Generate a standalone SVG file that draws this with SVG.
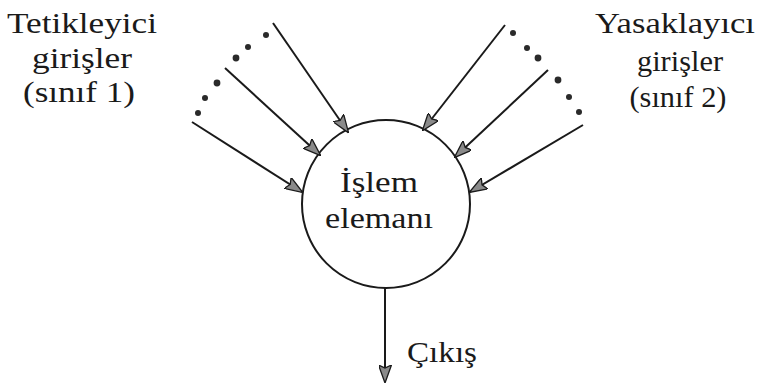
<svg xmlns="http://www.w3.org/2000/svg" width="765" height="392" viewBox="0 0 765 392">
<style>
.t{font-family:"Liberation Serif","Times New Roman",serif;font-size:30px;fill:#1a1a1a;text-anchor:middle}
.c{stroke:#1a1a1a;stroke-width:2;fill:none}
.d{fill:#2a2a2a}
</style>
<defs>
<marker id="ah" viewBox="0 0 18 13" refX="17" refY="6.5" markerWidth="18" markerHeight="13" markerUnits="userSpaceOnUse" orient="auto">
<path d="M0,0 L18,6.5 L0,13 L3,6.5 Z" fill="#8a8a8a" stroke="#1a1a1a" stroke-width="1.3"/>
</marker>
</defs>
<rect width="765" height="392" fill="#fff"/>
<g id="excitatory">
<text class="t" x="82" y="33" textLength="150" lengthAdjust="spacingAndGlyphs">Tetikleyici</text>
<text class="t" x="82" y="68" textLength="100" lengthAdjust="spacingAndGlyphs">girişler</text>
<text class="t" x="79" y="102" textLength="112" lengthAdjust="spacingAndGlyphs">(sınıf 1)</text>
</g>
<g id="inhibitory">
<text class="t" x="675" y="33" textLength="160" lengthAdjust="spacingAndGlyphs">Yasaklayıcı</text>
<text class="t" x="680" y="71" textLength="86" lengthAdjust="spacingAndGlyphs">girişler</text>
<text class="t" x="678" y="107" textLength="97" lengthAdjust="spacingAndGlyphs">(sınıf 2)</text>
</g>
<g id="neuron">
<circle cx="386" cy="204" r="84" fill="none" stroke="#1a1a1a" stroke-width="2"/>
<text class="t" x="379" y="192" textLength="78" lengthAdjust="spacingAndGlyphs">İşlem</text>
<text class="t" x="379" y="228" textLength="108" lengthAdjust="spacingAndGlyphs">elemanı</text>
</g>
<g id="output-label">
<text class="t" x="442" y="362" textLength="70" lengthAdjust="spacingAndGlyphs">Çıkış</text>
</g>
<g id="dots">
<circle class="d" cx="198" cy="113" r="3"/>
<circle class="d" cx="205" cy="98" r="3"/>
<circle class="d" cx="217" cy="83" r="3.4"/>
<circle class="d" cx="236" cy="58" r="3.4"/>
<circle class="d" cx="248" cy="47" r="3"/>
<circle class="d" cx="266" cy="35" r="3"/>
<circle class="d" cx="513" cy="33" r="3"/>
<circle class="d" cx="527" cy="48" r="3"/>
<circle class="d" cx="538" cy="58" r="3.4"/>
<circle class="d" cx="558" cy="80" r="3.4"/>
<circle class="d" cx="569" cy="97" r="3"/>
<circle class="d" cx="579" cy="112" r="3"/>
</g>
<g id="connectors">
<line class="c" x1="273" y1="23" x2="348" y2="132" marker-end="url(#ah)"/>
<line class="c" x1="225" y1="68" x2="320" y2="155" marker-end="url(#ah)"/>
<line class="c" x1="192" y1="122" x2="302" y2="192" marker-end="url(#ah)"/>
<line class="c" x1="505" y1="25" x2="423" y2="130" marker-end="url(#ah)"/>
<line class="c" x1="548" y1="70" x2="455" y2="157" marker-end="url(#ah)"/>
<line class="c" x1="583" y1="125" x2="470" y2="192" marker-end="url(#ah)"/>
<line class="c" x1="385" y1="288" x2="385" y2="382" marker-end="url(#ah)"/>
</g>
</svg>
